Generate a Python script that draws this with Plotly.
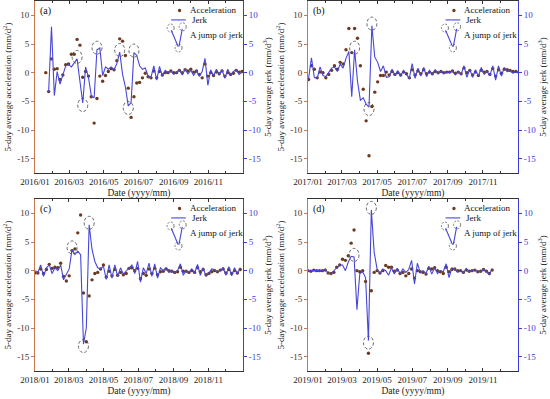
import pandas as pd
import plotly.graph_objects as go

FONT = "Liberation Serif, Times New Roman, serif"
W, H = 550, 399

# ---------------- data (5-day samples) ----------------
a_start = "2016-01-20"
a_acc = [0.0, -3.3, 2.4, 0.6, 0.7, -1.2, -0.4, 1.4, 1.5, 3.2, 3.2, 5.8, 4.8, -0.8, 0.2, -0.6,
         -4.2, -8.8, -4.5, -0.6, -1.5, -0.5, 0.2, 0.7, 0.5, 2.1, 5.9, 5.5, 3.0, -2.7, -7.8, -4.2,
         -1.8, -1.7, -0.9, -0.1,
         -0.7, -0.9, 0.3, -0.9, 0.2, -0.4, 0.0, 0.0, 0.3, 0.0, 0.0, 0.4, 0.0, 0.5, 0.3, 0.6, 0.1,
         0.3, -0.3, -0.9, 1.5, -0.6, 0.0, -0.5, 0.1, -0.2, 0.3, -0.6, 0.0, -0.3, -0.1, 0.4, 0.1, 0.2]
a_jerk = [None, -3.3, 8.0, -4.0, 0.2, -2.0, -0.2, 1.2, 1.4, 1.0, 1.7, 2.4, -1.5, -5.3, 1.0, -0.8,
          -4.0, -4.4, 4.0, 4.3, -0.5, 1.0, 0.6, 1.0, 0.5, 1.6, 3.6, -0.3, -2.5, -5.8, -5.2, 3.5,
          3.0, 1.2, 0.6, 0.8,
          -0.6, -0.8, 1.2, -1.3, 1.1, -0.6, 0.4, 0.0, 0.3, -0.3, 0.0, 0.5, -0.4, 0.6, -0.2, 0.4,
          -0.5, 0.3, -0.6, 0.2, 2.5, -2.2, 0.5, -0.6, 0.6, -0.3, 0.5, -1.0, 0.6, -0.4, 0.2, 0.5,
          -0.3, 0.1]
a_jumps = [11, 13, 18, 26, 29, 31]

b_start = "2017-01-02"
b_acc = [-1.2, 1.2, 0.6, -0.9, 0.1, 0.0, -0.9, -0.3, 0.4, 1.2, 0.6, 1.8, 1.5, 4.0, 7.7, 3.5,
         7.7, 6.0, 1.2, -2.9, -8.4, -14.5, -5.9, -3.4, -1.6, -0.5, -0.5, 0.1,
         -0.4, 0.2, -0.3, 0.0, -0.4, 0.1, -0.2, -0.9, 0.5, -0.4, 0.3, -0.2, 0.5, -0.2, 0.1, -0.2,
         0.2, 0.0, 0.2, 0.0, 0.1, 0.1, 0.3, -0.1, 0.1, -0.2, 0.8, 0.0, 0.4, -0.4, 0.1, -0.5, 0.4,
         0.1, 0.2, -0.3, 0.7, -0.6, 0.5, -0.1, 0.6, 0.5, 0.4, 0.2, 0.2, 0.1]
b_jerk = [-1.0, 2.6, -0.8, -1.0, 1.0, -0.5, -0.7, 0.0, 0.8, 1.0, 0.2, 1.5, 0.8, 2.5, 3.7, -4.2,
          4.0, -1.5, -4.8, -4.4, -5.5, -6.0, 8.2, 2.7, 1.8, 0.2, 1.2, -0.8, -0.7, 0.6, -0.5, 0.3,
          -0.6, 0.4, -0.3, -1.0, 1.6, -1.0, 0.8, -0.6, 0.9, -0.7, 0.4, -0.3, 0.5, -0.2, 0.3, -0.2,
          0.1, 0.0, 0.3, -0.4, 0.2, -0.3, 1.2, -0.8, 0.6, -0.8, 0.5, -0.6, 0.9, -0.3, 0.2, -0.5,
          1.2, -1.3, 1.2, -0.6, 0.9, 0.2, 0.3, -0.1, 0.1, 0.0]
b_jumps = [16, 21, 22]

c_start = "2018-01-01"
c_acc = [-0.4, -0.4, 0.3, -0.5, 0.2, 1.1, 0.4, 0.6, 0.5, 1.3, -1.0, -1.8, -0.9, 3.5, 3.8, 6.6,
         9.7, -3.9, -12.4, -4.4, -1.6, -0.5, -0.3, 0.3, 1.0, -1.1, -0.1, -0.9, 0.2, -0.8, -0.3,
         -0.7, -0.5, 0.4, 0.5, 0.0, 0.4, -1.4, -0.5, -0.8, 0.3, -0.5, 0.4, -0.7, -0.2, -0.1, 0.3,
         0.0, -0.1, -0.3, -0.2, 0.6, -0.1, -0.1, -0.3, 0.0, -0.3, 0.5, -0.2, 0.2, -0.7, -0.5,
         -0.2, 0.0, -0.2, 0.1, 0.3, -0.4, 0.2, -0.5, 0.0, -0.4, 0.2]
c_jerk = [0.0, -0.3, 1.0, -1.0, 0.5, 1.0, -0.5, 0.5, 0.0, 1.0, -1.6, -0.7, 0.3, 3.7, 2.8, 3.4,
          2.8, -12.8, -10.0, 8.0, 3.7, 1.6, 0.5, 0.3, 0.8, -1.5, 1.0, -1.3, 1.0, -1.0, 0.5, -0.6,
          0.0, 0.5, 1.0, -0.5, 1.6, -2.0, 0.5, -0.5, 1.3, -1.0, 1.2, -1.3, 0.5, 0.0, 0.5, -0.3,
          0.0, -0.3, 0.0, 1.2, -0.8, 0.0, -0.3, 0.3, -0.4, 1.1, -0.8, 0.5, -1.0, -0.4, 0.3, 0.2,
          -0.3, 0.0, 0.5, -0.8, 0.7, -0.9, 0.5, -0.6, 0.5]
c_jumps = [13, 17, 19]

d_start = "2019-01-01"
d_acc = [0.0, -0.1, 0.1, 0.0, 0.0, 0.0, 0.1, -0.4, -0.5, -0.3, 0.6, 1.0, 2.0, 1.8, 2.6, 4.8,
         7.1, 0.0, -0.2, 0.0, -1.9, -14.4, -3.5, -0.3, 0.0, -0.4, 0.0, 0.9, 0.6, 0.6, -0.1, 0.1,
         -0.5, -0.3, -0.9, -0.5, 0.3, -1.3, 0.0, -0.2, -0.3, -0.6, 0.4, 0.3, 0.5, 0.0, -0.2,
         -0.5, 0.6, -0.2, 0.2, 0.3, 0.0, 0.0, -0.3, 0.1, -0.1, 0.0, 0.1, -0.2, -0.1, 0.2, -0.1,
         -0.5, 0.1]
d_jerk = [0.0, 0.0, 0.1, 0.0, 0.0, 0.0, 0.3, -0.5, -0.5, 0.0, 0.5, 1.0, 1.0, 0.0, 1.5, 2.5,
          2.4, -6.8, -0.5, -0.2, -1.2, -12.2, 10.6, 3.2, 0.3, -0.5, 0.3, 0.0, -0.8, 0.5, -0.6,
          0.4, -0.5, 0.3, -0.3, 0.2, 1.8, -2.3, 1.3, -0.3, 0.0, -0.5, 0.8, -0.6, 0.5, -0.5, 0.0,
          -0.2, 1.2, -1.2, 0.5, 0.2, -0.3, 0.0, -0.4, 0.4, -0.2, 0.0, 0.2, -0.3, -0.1, 0.3, -0.2,
          -0.7, 0.4]
d_jumps = [16, 21, 22]

panel_labels = ["(a)", "(b)", "(c)", "(d)"]
years = [2016, 2017, 2018, 2019]
ytick_vals = [-15, -10, -5, 0, 5, 10]
ytick_text = ["-15", "-10", "-5", "0", "5", "10"]
y_range = [-17.5, 12.5]

acc_name = "Acceleration"
jerk_name = "Jerk"
jump_text = "A jump of jerk"
x_title = "Date (yyyy/mm)"
yl_title = "5-day average acceleration (mm/d<sup>2</sup>)"
yr_title = "5-day average jerk (mm/d<sup>3</sup>)"

# ---------------- styles ----------------
ACC_C = "#6B3A1F"
JERK_C = "#4646DA"
LEFT_C = "#C8784A"
LEFT_TXT = "#4a3328"
RIGHT_C = "#3D3DDB"
FRAME_C = "#333333"
CIRC_C = "#555555"

# plot boxes in pixels: (left, right, top, bottom)
boxes = [(35, 243, 1, 173), (308, 518, 1, 173), (35, 243, 199, 371), (308, 518, 199, 371)]

fig = go.Figure()
panels = [(a_start, a_acc, a_jerk, a_jumps), (b_start, b_acc, b_jerk, b_jumps),
          (c_start, c_acc, c_jerk, c_jumps), (d_start, d_acc, d_jerk, d_jumps)]

shapes = []
annotations = []
layout = {}
for i, (start, acc, jerk, jumps) in enumerate(panels):
    xs = "" if i == 0 else str(i + 1)
    yl = "" if i == 0 else str(2 * i + 1)
    yr = str(2 * i + 2)
    dates = pd.date_range(start, periods=len(acc), freq="5D")
    fig.add_trace(go.Scatter(x=dates, y=acc, mode="markers", name=acc_name,
                             marker=dict(size=3.4, color=ACC_C), showlegend=False,
                             xaxis="x" + xs, yaxis="y" + yl))
    fig.add_trace(go.Scatter(x=dates, y=jerk, mode="lines", name=jerk_name,
                             line=dict(color=JERK_C, width=1.1), showlegend=False,
                             xaxis="x" + xs, yaxis="y" + yr))
    l, r, t, b = boxes[i]
    yr0 = years[i]
    layout["xaxis" + xs] = dict(
        domain=[l / W, r / W], anchor="y" + yl, type="date", automargin=False,
        range=[f"{yr0}-01-01", f"{yr0}-12-31 20:00"],
        tick0=f"{yr0}-01-01", dtick="M2", tickformat="%Y/%m",
        ticks="inside", ticklen=3, tickcolor=FRAME_C,
        minor=dict(dtick="M1", ticks="inside", ticklen=2, tickcolor=FRAME_C),
        showline=True, linecolor=FRAME_C, linewidth=1, mirror="ticks",
        showgrid=False, zeroline=False,
        tickfont=dict(family=FONT, size=9, color="#222"),
        title=dict(text=x_title, font=dict(family=FONT, size=9.5, color="#222"), standoff=3),
    )
    layout["yaxis" + yl] = dict(
        domain=[1 - b / H, 1 - t / H], anchor="x" + xs, range=y_range, automargin=False,
        tickvals=ytick_vals, ticktext=ytick_text,
        ticks="outside", ticklen=3, tickcolor=LEFT_C,
        showline=True, linecolor=LEFT_C, linewidth=1,
        showgrid=False, zeroline=False,
        tickfont=dict(family=FONT, size=9, color=LEFT_TXT),
        title=dict(text=yl_title, font=dict(family=FONT, size=9, color="#222"), standoff=4),
    )
    layout["yaxis" + yr] = dict(
        overlaying="y" + yl, side="right", anchor="x" + xs, range=y_range, automargin=False,
        tickvals=ytick_vals, ticktext=ytick_text,
        ticks="outside", ticklen=3, tickcolor=RIGHT_C,
        showline=True, linecolor=RIGHT_C, linewidth=1,
        showgrid=False, zeroline=False,
        tickfont=dict(family=FONT, size=9, color=RIGHT_C),
        title=dict(text=yr_title, font=dict(family=FONT, size=9, color="#222"), standoff=3),
    )
    xd, yd = "x" + xs + " domain", "y" + yl + " domain"

    # panel label
    annotations.append(dict(text=panel_labels[i], xref=xd, yref=yd, x=0.015, y=0.94,
                            xanchor="left", yanchor="middle", showarrow=False,
                            font=dict(family=FONT, size=10, color="#111")))
    # legend
    shapes.append(dict(type="circle", xref=xd, yref=yd, xsizemode="pixel", ysizemode="pixel",
                       xanchor=0.695, yanchor=0.945, x0=-1.7, x1=1.7, y0=-1.7, y1=1.7,
                       fillcolor=ACC_C, line=dict(width=0)))
    annotations.append(dict(text=acc_name, xref=xd, yref=yd, x=0.735, y=0.945,
                            xanchor="left", yanchor="middle", showarrow=False,
                            font=dict(family=FONT, size=9, color="#111")))
    shapes.append(dict(type="line", xref=xd, yref=yd, x0=0.655, x1=0.725, y0=0.89, y1=0.89,
                       line=dict(color=JERK_C, width=1.1)))
    annotations.append(dict(text=jerk_name, xref=xd, yref=yd, x=0.745, y=0.89,
                            xanchor="left", yanchor="middle", showarrow=False,
                            font=dict(family=FONT, size=9, color="#111")))
    # "A jump of jerk" icon
    for (cx, cy) in [(0.652, 0.843), (0.71, 0.85), (0.69, 0.727)]:
        shapes.append(dict(type="circle", xref=xd, yref=yd, xsizemode="pixel", ysizemode="pixel",
                           xanchor=cx, yanchor=cy, x0=-3.5, x1=3.5, y0=-4, y1=4,
                           line=dict(color=CIRC_C, width=0.8, dash="2px,1.5px")))
    shapes.append(dict(type="line", xref=xd, yref=yd, x0=0.655, y0=0.83, x1=0.688, y1=0.735,
                       line=dict(color=JERK_C, width=1.1)))
    shapes.append(dict(type="line", xref=xd, yref=yd, x0=0.692, y0=0.735, x1=0.708, y1=0.838,
                       line=dict(color=JERK_C, width=1.1)))
    annotations.append(dict(text=jump_text, xref=xd, yref=yd, x=0.735, y=0.80,
                            xanchor="left", yanchor="middle", showarrow=False,
                            font=dict(family=FONT, size=9, color="#111")))
    # dashed circles on the jumps of jerk
    for k in jumps:
        v = jerk[k]
        s = 2 if v >= 0 else -2
        shapes.append(dict(type="circle", xref="x" + xs, yref="y" + yr,
                           xsizemode="pixel", ysizemode="pixel",
                           xanchor=dates[k].strftime("%Y-%m-%d"), yanchor=v,
                           x0=-5, x1=5, y0=-6.5 + s, y1=6.5 + s,
                           line=dict(color=CIRC_C, width=0.9, dash="3px,2px")))

fig.update_layout(
    width=W, height=H, margin=dict(l=0, r=0, t=0, b=0, autoexpand=False),
    paper_bgcolor="white", plot_bgcolor="white",
    showlegend=False, shapes=shapes, annotations=annotations,
    font=dict(family=FONT, size=9), **layout,
)
fig.write_html("out.html", config={"displayModeBar": False},
               post_script="document.body.style.margin='0';")
